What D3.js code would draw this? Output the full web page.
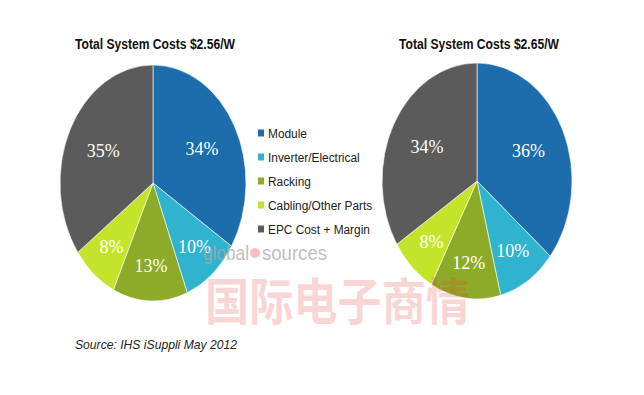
<!DOCTYPE html>
<html>
<head>
<meta charset="utf-8">
<script src="https://cdn.jsdelivr.net/npm/d3@7"></script>
<style>
  body { margin: 0; background: #fff; }
</style>
</head>
<body>
<div id="chart"></div>
<script>
// cost breakdown, two pies
const categories = ["Module", "Inverter/Electrical", "Racking", "Cabling/Other Parts", "EPC Cost + Margin"];
const leftValues = [34, 10, 13, 8, 35];
const rightValues = [36, 10, 12, 8, 34];
const titles = ["Total System Costs $2.56/W", "Total System Costs $2.65/W"];
const colors = ["#1d6cab", "#30b3cf", "#8dab28", "#c4e42c", "#5b5b5b"];

let width = 644, height = 395;

const svg = d3.select("#chart")
  .append("svg")
  .attr("width", width)
  .attr("height", height);

let pie = d3.pie().sort(null).value(d => d);
let arc = d3.arc().innerRadius(0).outerRadius(1);

function drawPie(values, title, cx, cy, rx, ry) {
  let g = svg.append("g")
    .attr("transform", `translate(${cx},${cy}) scale(${rx},${ry})`);

  let arcs = pie(values);

  g.selectAll("path")
    .data(arcs)
    .join("path")
    .attr("d", arc)
    .attr("fill", (d, i) => colors[i])
    .attr("stroke", "#fff")
    .attr("stroke-width", 0.6)
    .attr("vector-effect", "non-scaling-stroke");

  arcs.forEach(d => {
    // big slices get their label a bit further in
    let r = d.data > 20 ? 0.6 : 0.7;
    let c = d3.arc().innerRadius(r).outerRadius(r).centroid(d);
    svg.append("text")
      .attr("x", cx + c[0] * rx)
      .attr("y", cy + c[1] * ry)
      .attr("dy", "0.35em")
      .attr("text-anchor", "middle")
      .attr("fill", "#fff")
      .style("font-family", "'Liberation Serif', 'DejaVu Serif', serif")
      .style("font-size", "18px")
      .text(d.data + "%");
  });

  svg.append("text")
    .attr("x", cx + 2)
    .attr("y", 49)
    .attr("text-anchor", "middle")
    .attr("textLength", 160)
    .attr("lengthAdjust", "spacingAndGlyphs")
    .attr("fill", "#111")
    .style("font-family", "'Liberation Sans', Arial, sans-serif")
    .style("font-weight", "bold")
    .style("font-size", "14px")
    .text(title);
}

drawPie(leftValues, titles[0], 153, 183, 93, 118);
drawPie(rightValues, titles[1], 477, 181, 95, 118);

// legend
let legend = svg.append("g").attr("transform", "translate(258,133)");
categories.forEach((c, i) => {
  let row = legend.append("g").attr("transform", `translate(0,${i * 24})`);
  row.append("rect")
    .attr("x", 0).attr("y", -3.5)
    .attr("width", 6).attr("height", 7)
    .attr("fill", colors[i]);
  row.append("text")
    .attr("transform", "translate(10,0) scale(0.88,1)")
    .attr("dy", "0.36em")
    .attr("fill", "#222")
    .style("font-family", "'Liberation Sans', Arial, sans-serif")
    .style("font-size", "13.5px")
    .text(c);
});

// source note
svg.append("text")
  .attr("x", 75)
  .attr("y", 349)
  .attr("textLength", 162)
  .attr("lengthAdjust", "spacingAndGlyphs")
  .attr("fill", "#222")
  .style("font-family", "'Liberation Sans', Arial, sans-serif")
  .style("font-style", "italic")
  .style("font-size", "13px")
  .text("Source: IHS iSuppli May 2012");

// watermark
svg.append("text")
  .attr("x", 203).attr("y", 260)
  .attr("textLength", 46)
  .attr("lengthAdjust", "spacingAndGlyphs")
  .attr("fill", "#aaa")
  .attr("opacity", 0.75)
  .style("font-family", "'Liberation Sans', sans-serif")
  .style("font-size", "21px")
  .text("global");
svg.append("circle")
  .attr("cx", 255).attr("cy", 253).attr("r", 5)
  .attr("fill", "#f08a8a").attr("opacity", 0.55);
svg.append("text")
  .attr("x", 262).attr("y", 260)
  .attr("textLength", 65)
  .attr("lengthAdjust", "spacingAndGlyphs")
  .attr("fill", "#aaa")
  .attr("opacity", 0.75)
  .style("font-family", "'Liberation Sans', sans-serif")
  .style("font-size", "21px")
  .text("sources");
svg.append("text")
  .attr("x", 205).attr("y", 320)
  .attr("textLength", 265)
  .attr("lengthAdjust", "spacingAndGlyphs")
  .attr("fill", "#e23a3a")
  .attr("opacity", 0.2)
  .style("font-family", "'Noto Sans CJK SC', sans-serif")
  .style("font-weight", "bold")
  .style("font-size", "50px")
  .text("国际电子商情");
</script>
</body>
</html>
